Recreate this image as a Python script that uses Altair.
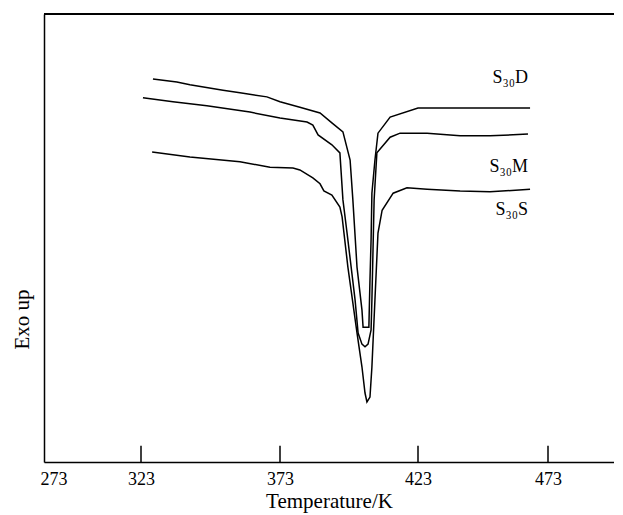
import altair as alt
import pandas as pd

# ---- data (temperature in K, heat flow in arbitrary units) ----
t_D = [327.3, 335.9, 340.6, 352.5, 358.6, 368.3, 373.0, 380.2, 387.5, 391.8, 395.8, 398.4,
       399.4, 400.9, 402.7, 403.1, 405.2, 405.6, 406.0, 406.3, 407.4, 408.5, 412.9, 423.0, 466.1]
v_D = [85.5, 84.8, 84.2, 83.0, 82.4, 81.5, 80.4, 79.2, 77.9, 75.7, 73.7, 67.4,
       58.5, 43.5, 33.9, 30.1, 30.1, 40.6, 49.6, 60.0, 67.4, 73.4, 77.0, 79.0, 79.0]

t_M = [323.7, 334.5, 346.7, 362.2, 373.0, 382.8, 384.9, 386.8, 391.8, 394.7, 395.8, 397.3,
       400.2, 401.3, 402.7, 403.8, 404.9, 406.0, 406.3, 406.7, 407.1, 408.1, 412.9, 416.5,
       426.5, 439.2, 450.7, 465.3]
v_M = [81.3, 80.4, 79.5, 78.1, 76.8, 75.9, 75.2, 73.0, 70.8, 69.0, 58.5, 51.1,
       36.2, 28.8, 26.3, 25.7, 26.3, 29.5, 36.2, 47.3, 58.5, 69.0, 72.5, 73.4,
       73.4, 72.8, 72.8, 73.2]

t_S = [327.0, 340.6, 358.6, 369.4, 377.7, 380.2, 384.9, 387.5, 388.9, 391.8, 394.7, 395.5,
       397.6, 400.9, 402.7, 403.8, 404.5, 405.6, 406.3, 407.4, 408.5, 410.0, 414.0, 419.0,
       426.5, 439.2, 450.7, 466.1]
v_S = [69.2, 68.1, 67.0, 65.8, 65.6, 65.2, 63.4, 62.1, 60.5, 59.6, 56.9, 54.7,
       43.5, 28.8, 21.2, 15.4, 13.4, 14.5, 21.2, 36.2, 51.1, 56.2, 60.0, 61.2,
       60.9, 60.5, 60.3, 60.9]

series_names = ["S30D", "S30M", "S30S"]
label_texts = ["S\u2083\u2080D", "S\u2083\u2080M", "S\u2083\u2080S"]
label_t = [465.3, 465.3, 465.3]
label_v = [84.6, 64.7, 55.1]

tick_values = [273, 323, 373, 423, 473]
inner_ticks = [323, 373, 423, 473]

# axis breakpoints of the (slightly non-uniform) printed temperature axis
x_domain = [273, 323, 373, 423, 473, 498.4]
x_range = [0, 97, 236, 374, 504, 570]
y_domain = [0, 100]

rows = []
for name, ts, vs in zip(series_names, [t_D, t_M, t_S], [v_D, v_M, v_S]):
    for i, (t, v) in enumerate(zip(ts, vs)):
        rows.append({"series": name, "T": t, "v": v, "i": i})
df = pd.DataFrame(rows)
labels_df = pd.DataFrame({"text": label_texts, "T": label_t, "v": label_v})
ticks_df = pd.DataFrame({"T": inner_ticks})

FONT = "Liberation Serif"

xscale = alt.Scale(domain=x_domain, range=x_range, nice=False, zero=False)
yscale = alt.Scale(domain=y_domain, nice=False, zero=False)

xaxis = alt.Axis(values=tick_values, ticks=False, grid=False, labelFont=FONT,
                 labelFontSize=18, labelColor="black", labelPadding=8, labelFlush=True,
                 labelFlushOffset=4,
                 domainColor="black", domainWidth=1.5, title="Temperature/K",
                 titleFont=FONT, titleFontSize=21, titleFontWeight="normal",
                 titleColor="black", titleY=45, titleBaseline="alphabetic")
yaxis = alt.Axis(ticks=False, labels=False, grid=False, domainColor="black",
                 domainWidth=1.5, title="Exo up", titleFont=FONT, titleFontSize=21,
                 titleFontWeight="normal", titleColor="black", titleAngle=-90,
                 titleX=-16, titleY=305, titleBaseline="alphabetic", titleAlign="center")

lines = alt.Chart(df).mark_line(color="black", strokeWidth=1.5).encode(
    x=alt.X("T:Q", scale=xscale, axis=xaxis),
    y=alt.Y("v:Q", scale=yscale, axis=yaxis),
    detail="series:N",
    order="i:Q",
)

ticks = alt.Chart(ticks_df).mark_rule(color="black", strokeWidth=1.5).encode(
    x="T:Q",
    y=alt.datum(0),
    y2=alt.datum(3.6),
)

top_border = alt.Chart(ticks_df).mark_rule(color="black", strokeWidth=1.5).encode(
    x=alt.datum(273),
    x2=alt.datum(498.4),
    y=alt.datum(100),
)

texts = alt.Chart(labels_df).mark_text(font=FONT, fontSize=18, align="right",
                                       baseline="alphabetic", color="black").encode(
    x="T:Q",
    y="v:Q",
    text="text:N",
)

chart = alt.layer(lines, ticks, top_border, texts).properties(
    width=570, height=448,
    autosize=alt.AutoSizeParams(type="none"),
    padding={"left": 36, "top": 6, "right": 0, "bottom": 53},
).configure_view(stroke=None).configure(background="white")

chart.save("out.html", embed_options={"renderer": "svg", "actions": False})
